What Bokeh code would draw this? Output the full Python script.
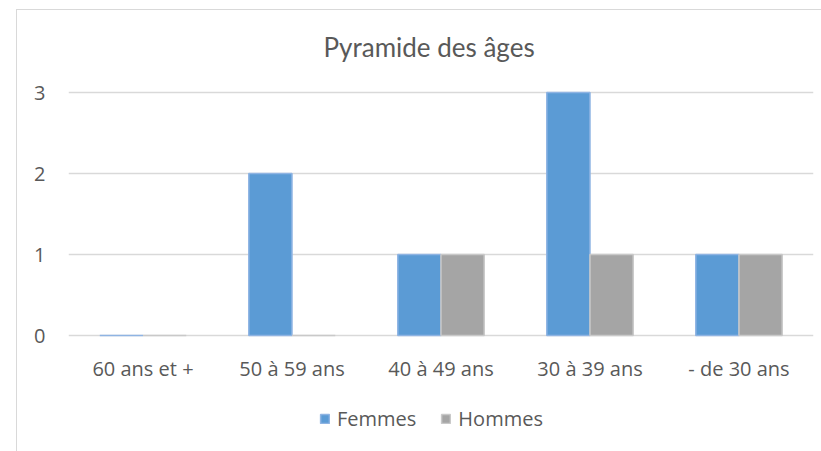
from bokeh.plotting import figure
from bokeh.core.properties import value
from bokeh.models import ColumnDataSource, FactorRange, Range1d, FixedTicker, Legend, LegendItem, Label
from bokeh.transform import dodge
from bokeh.embed import file_html
from bokeh.resources import INLINE

categories = ["60 ans et +", "50 à 59 ans", "40 à 49 ans", "30 à 39 ans", "- de 30 ans"]
femmes = [0, 2, 1, 3, 1]
hommes = [0, 0, 1, 1, 1]
y_ticks = [0, 1, 2, 3]
title_text = "Pyramide des âges"

src = ColumnDataSource(dict(cat=categories, femmes=femmes, hommes=hommes))

# frame spans the whole chart area so title, category labels and legend live inside it
p = figure(x_range=FactorRange(*categories), y_range=Range1d(-1.37, 4.0),
           width=805, height=442, output_backend="svg", toolbar_location=None,
           min_border_left=51, min_border_right=9, min_border_top=1, min_border_bottom=6)
p.margin = (9, 0, 0, 16)
p.styles = {"border-left": "1px solid #D9D9D9", "border-top": "1px solid #D9D9D9"}

title = Label(x=2.42, y=3.556, text=title_text, text_align="center", text_baseline="middle",
              text_font="Lato", text_font_size="26px", text_color="#595959")
p.add_layout(title)

bw = 0.29
rf = p.vbar(x=dodge("cat", -bw / 2, range=p.x_range), top="femmes", width=bw, source=src,
            fill_color="#5B9BD5", line_color="#8FB4E3", line_width=1.5)
rh = p.vbar(x=dodge("cat", bw / 2, range=p.x_range), top="hommes", width=bw, source=src,
            fill_color="#A5A5A5", line_color="#C9C9C9", line_width=1.5)

# category labels under the zero line
p.text(x="cat", y=0, text="cat", source=src, y_offset=33,
       text_align="center", text_baseline="middle",
       text_font=value("Open Sans"), text_font_size="20px", text_color="#595959")

p.outline_line_color = None
p.xgrid.grid_line_color = None
p.ygrid.grid_line_color = "#D9D9D9"
p.ygrid.grid_line_width = 1.5
p.xaxis.visible = False
p.yaxis.ticker = FixedTicker(ticks=y_ticks)
p.ygrid.ticker = FixedTicker(ticks=y_ticks)
p.yaxis.axis_line_color = None
p.yaxis.major_tick_line_color = None
p.yaxis.minor_tick_line_color = None
p.yaxis.major_label_text_font = "Open Sans"
p.yaxis.major_label_text_font_size = "20px"
p.yaxis.major_label_text_color = "#595959"
p.yaxis.major_label_standoff = 17

legend = Legend(items=[LegendItem(label="Femmes", renderers=[rf]),
                       LegendItem(label="Hommes", renderers=[rh])],
                orientation="horizontal", location=(251, 14),
                border_line_color=None, background_fill_alpha=0,
                label_text_font="Open Sans", label_text_font_size="20px",
                label_text_color="#595959", glyph_width=11, glyph_height=11,
                spacing=24, label_standoff=7, padding=5, margin=0)
p.add_layout(legend, "center")

open("out.html", "w").write(file_html(p, INLINE))
